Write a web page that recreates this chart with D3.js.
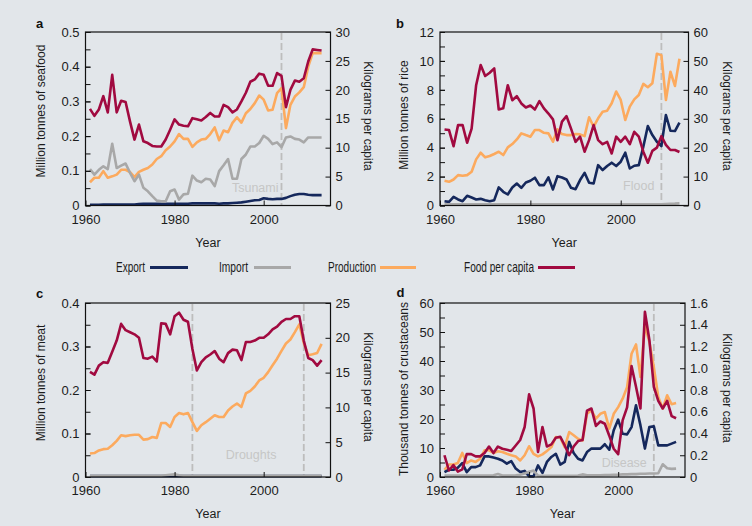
<!DOCTYPE html>
<html><head><meta charset="utf-8">
<script src="https://cdn.jsdelivr.net/npm/d3@7"></script>
<style>
html,body{margin:0;padding:0;background:#e2e6ea;}
svg{display:block;font-family:"Liberation Sans",Arial,Helvetica,sans-serif;}
</style></head><body>
<svg id="chart" width="752" height="526"></svg>
<script>
// ---------------- DATA ----------------
const years = [1961,1962,1963,1964,1965,1966,1967,1968,1969,1970,
  1971,1972,1973,1974,1975,1976,1977,1978,1979,1980,
  1981,1982,1983,1984,1985,1986,1987,1988,1989,1990,
  1991,1992,1993,1994,1995,1996,1997,1998,1999,2000,
  2001,2002,2003,2004,2005,2006,2007,2008,2009,2010,
  2011,2012,2013];
const seriesNames = ["Export","Import","Production","Food per capita"];

// a: seafood (million tonnes; food in kg per capita)
const seafoodExport = [0.002,0.002,0.002,0.003,0.003,0.003,0.003,0.003,0.003,0.003,
  0.003,0.004,0.005,0.005,0.005,0.005,0.005,0.005,0.005,0.005,
  0.005,0.005,0.005,0.006,0.006,0.006,0.006,0.006,0.006,0.005,
  0.006,0.006,0.007,0.008,0.009,0.011,0.013,0.015,0.016,0.021,
  0.019,0.018,0.019,0.019,0.022,0.027,0.031,0.033,0.033,0.031,
  0.030,0.030,0.030];
const seafoodImport = [0.105,0.089,0.103,0.113,0.105,0.178,0.108,0.115,0.121,0.094,
  0.070,0.089,0.051,0.041,0.027,0.014,0.012,0.012,0.041,0.046,
  0.017,0.032,0.034,0.086,0.072,0.067,0.077,0.075,0.056,0.099,
  0.116,0.134,0.077,0.077,0.134,0.147,0.170,0.170,0.180,0.201,
  0.192,0.177,0.182,0.168,0.196,0.199,0.192,0.190,0.182,0.196,
  0.196,0.196,0.196];
const seafoodProduction = [0.067,0.080,0.080,0.099,0.080,0.084,0.089,0.103,0.103,0.096,
  0.082,0.097,0.103,0.108,0.118,0.134,0.142,0.159,0.170,0.185,
  0.206,0.192,0.192,0.169,0.182,0.190,0.192,0.206,0.225,0.188,
  0.216,0.211,0.238,0.254,0.239,0.266,0.278,0.295,0.317,0.305,
  0.274,0.276,0.324,0.338,0.223,0.290,0.314,0.326,0.341,0.400,
  0.439,0.439,0.439];
const seafoodFood = [16.7,15.5,16.6,18.9,16.1,22.6,16.1,18.1,17.9,14.5,
  11.4,14.0,11.1,10.8,10.3,10.2,10.2,11.4,13.1,14.9,
  14.0,13.8,13.7,15.1,14.9,14.7,15.3,16.0,15.4,15.4,
  17.4,17.0,16.1,16.6,18.0,19.5,21.4,21.8,22.8,22.6,
  20.7,20.7,22.9,22.4,17.0,20.0,21.6,21.4,22.0,24.9,
  27.0,26.9,26.8];

// b: rice
const riceExport = [0.30,0.25,0.60,0.42,0.30,0.67,0.55,0.42,0.46,0.37,
  0.30,0.37,1.25,0.95,0.76,1.25,1.52,1.22,1.59,1.71,
  1.92,1.41,1.41,1.94,1.11,2.03,1.94,1.80,1.22,1.13,
  1.76,2.26,1.57,1.52,2.79,2.45,2.73,2.96,2.73,3.03,
  3.65,2.56,2.75,2.79,4.06,5.50,4.87,4.41,4.11,6.26,
  5.17,5.15,5.73];
const riceImport = [0.08,0.08,0.08,0.08,0.08,0.08,0.08,0.08,0.08,0.08,
  0.08,0.08,0.08,0.08,0.08,0.08,0.08,0.08,0.08,0.08,
  0.08,0.08,0.08,0.08,0.08,0.08,0.08,0.08,0.08,0.08,
  0.08,0.08,0.08,0.08,0.08,0.08,0.08,0.08,0.08,0.08,
  0.08,0.08,0.08,0.08,0.08,0.08,0.08,0.08,0.08,0.10,
  0.12,0.13,0.15];
const riceProduction = [1.71,1.64,1.80,2.10,2.06,2.10,2.33,3.19,3.65,3.33,
  3.42,3.56,3.72,3.49,4.02,4.25,4.57,4.99,4.87,4.76,
  5.22,5.22,5.03,4.99,4.41,5.27,4.94,4.87,4.87,4.94,
  4.92,4.80,6.10,5.45,6.03,6.49,6.56,7.07,7.88,7.30,
  5.91,6.84,7.34,7.64,8.41,8.18,8.45,10.50,10.40,7.30,
  9.25,8.27,10.15];
const riceFood = [26.3,26.1,20.5,27.8,27.8,21.7,26.6,41.6,48.6,44.8,
  45.9,47.4,33.2,33.6,41.6,36.4,37.8,35.3,33.9,34.6,
  33.2,36.1,33.6,31.8,29.8,22.6,29.0,30.9,26.6,22.0,
  23.8,18.6,22.6,27.8,22.6,21.2,22.0,18.0,23.8,22.0,
  23.8,21.2,25.5,23.8,18.6,14.8,18.9,20.0,24.0,21.0,
  19.2,19.2,18.5];

// c: meat
const meatExport = [0.002,0.002,0.002,0.002,0.002,0.002,0.002,0.002,0.002,0.002,
  0.002,0.002,0.002,0.002,0.002,0.002,0.002,0.002,0.002,0.002,
  0.002,0.002,0.002,0.002,0.002,0.002,0.002,0.002,0.002,0.002,
  0.002,0.002,0.002,0.002,0.002,0.002,0.002,0.002,0.002,0.002,
  0.002,0.002,0.002,0.002,0.002,0.002,0.002,0.002,0.002,0.002,
  0.002,0.002,0.002];
const meatImport = [0.003,0.003,0.003,0.003,0.003,0.003,0.003,0.003,0.003,0.003,
  0.003,0.003,0.003,0.003,0.003,0.003,0.003,0.004,0.005,0.006,
  0.004,0.003,0.003,0.003,0.003,0.003,0.003,0.003,0.003,0.003,
  0.003,0.003,0.003,0.003,0.003,0.003,0.003,0.003,0.003,0.003,
  0.003,0.003,0.003,0.003,0.003,0.003,0.003,0.003,0.003,0.003,
  0.003,0.003,0.003];
const meatProduction = [0.054,0.055,0.061,0.064,0.065,0.073,0.083,0.096,0.094,0.096,
  0.097,0.097,0.086,0.087,0.092,0.090,0.124,0.124,0.115,0.138,
  0.147,0.144,0.147,0.126,0.106,0.119,0.126,0.134,0.142,0.138,
  0.138,0.153,0.162,0.169,0.161,0.192,0.198,0.208,0.222,0.228,
  0.241,0.257,0.272,0.290,0.307,0.316,0.333,0.351,0.308,0.280,
  0.282,0.285,0.306];
const meatFood = [15.1,14.7,16.0,16.5,16.4,18.0,19.6,22.0,21.1,20.8,
  20.5,20.0,17.1,17.0,17.3,16.6,22.1,22.0,20.5,23.1,
  23.6,22.6,22.3,18.4,15.3,16.5,17.2,17.6,18.1,17.0,
  16.5,17.8,18.3,18.2,16.8,19.4,19.4,19.6,20.0,20.0,
  20.5,21.2,21.6,22.3,22.7,22.7,23.1,23.1,19.6,17.1,
  16.8,16.0,16.8];

// d: crustaceans (thousand tonnes; food in kg per capita)
const crustExport = [1.7,2.5,2.5,3.2,4.8,1.7,3.4,3.4,4.0,7.1,
  7.1,6.7,6.3,5.7,4.6,5.5,2.9,1.7,2.1,0.2,
  0.2,4.0,1.4,5.2,6.9,8.0,4.3,5.2,12.1,8.3,
  6.3,5.7,8.6,9.8,9.8,9.8,11.3,9.4,16.1,19.8,
  14.9,14.7,17.2,24.7,17.8,9.8,17.2,17.5,10.9,10.9,
  10.9,11.5,12.1];
const crustImport = [0.5,0.5,0.5,0.5,0.5,0.5,0.5,0.5,0.5,0.5,
  0.5,0.6,1.0,0.5,0.5,0.5,0.6,0.8,1.2,1.8,
  2.2,0.5,0.4,0.4,0.4,0.4,0.4,0.4,0.4,0.4,
  0.5,0.9,0.6,0.6,0.6,0.6,0.7,0.7,0.8,0.8,
  0.9,0.9,1.0,1.0,1.1,1.1,1.2,1.2,1.3,4.4,
  3.0,2.8,2.9];
const crustProduction = [2.5,4.3,4.3,4.8,8.3,4.8,5.7,5.2,6.3,9.2,
  9.2,8.3,8.9,8.6,8.0,7.5,7.1,5.7,7.5,10.6,
  8.0,7.1,7.8,9.0,10.3,13.8,13.6,10.3,15.5,14.4,
  13.2,12.6,21.8,23.0,20.1,21.8,22.4,16.7,21.8,24.1,
  27.0,31.0,42.5,45.7,34.5,52.3,46.6,37.9,27.6,23.6,
  28.2,25.1,25.5];
const crustFood = [0.20,0.06,0.11,0.05,0.07,0.21,0.21,0.19,0.19,0.22,
  0.28,0.22,0.28,0.26,0.25,0.24,0.29,0.34,0.46,0.76,
  0.63,0.23,0.46,0.28,0.30,0.36,0.37,0.29,0.20,0.28,
  0.33,0.34,0.61,0.63,0.47,0.51,0.49,0.38,0.26,0.21,
  0.52,0.64,1.02,0.83,0.63,1.52,1.26,0.83,0.70,0.63,
  0.70,0.56,0.54];

// tick values
const xTicks = [1960,1980,2000];
const aLeftTicks = [0,0.1,0.2,0.3,0.4,0.5];
const aRightTicks = [0,5,10,15,20,25,30];
const bLeftTicks = [0,2,4,6,8,10,12];
const bRightTicks = [0,10,20,30,40,50,60];
const cLeftTicks = [0,0.1,0.2,0.3,0.4];
const cRightTicks = [0,5,10,15,20,25];
const dLeftTicks = [0,10,20,30,40,50,60];
const dRightTicks = [0,0.2,0.4,0.6,0.8,1.0,1.2,1.4,1.6];

// events
const aEvents = [{year:2004, label:"Tsunami"}];
const bEvents = [{year:2009, label:"Flood"}];
const cEvents = [{year:1984, label:""},{year:2009, label:""}];
const cEventLabel = "Droughts";
const dEvents = [{year:2008, label:"Disease"}];

// ---------------- STYLE / LAYOUT ----------------
const colors = {Export:"#15285c", Import:"#a8a8a8", Production:"#fcaa5e", "Food per capita":"#a10a40"};
const fmt1 = d => d === 0 ? "0" : d3.format(".1f")(d);
const fmt0 = d3.format("d");

const panels = [
  {letter:"a", l:85.5, r:330.5, t:32, b:205.5, yL:[0,0.5], yR:[0,30],
   lt:aLeftTicks, lminor:0.05, rt:aRightTicks, lf:fmt1, rf:fmt0,
   title:"Million tonnes of seafood", titleX:45, titleY:111, rtitleX:363.5, rtitleY:116,
   letterX:36, letterY:27.5,
   data:{Export:seafoodExport, Import:seafoodImport, Production:seafoodProduction, "Food per capita":seafoodFood},
   events:aEvents, labelDx:-3, labelY:192},
  {letter:"b", l:440, r:688.5, t:32, b:205.5, yL:[0,12], yR:[0,60],
   lt:bLeftTicks, lminor:1, rt:bRightTicks, lf:fmt0, rf:fmt0,
   title:"Million tonnes of rice", titleX:407.5, titleY:115, rtitleX:722.5, rtitleY:116,
   letterX:396, letterY:28,
   data:{Export:riceExport, Import:riceImport, Production:riceProduction, "Food per capita":riceFood},
   events:bEvents, labelDx:-7, labelY:190},
  {letter:"c", l:85.5, r:330.5, t:303, b:477, yL:[0,0.4], yR:[0,25],
   lt:cLeftTicks, lminor:0.05, rt:cRightTicks, lf:fmt1, rf:fmt0,
   title:"Million tonnes of meat", titleX:44.5, titleY:383, rtitleX:363.5, rtitleY:387,
   letterX:36, letterY:297.5,
   data:{Export:meatExport, Import:meatImport, Production:meatProduction, "Food per capita":meatFood},
   events:cEvents, labelDx:0, labelY:459},
  {letter:"d", l:440, r:685, t:303, b:477, yL:[0,60], yR:[0,1.6],
   lt:dLeftTicks, lminor:5, rt:dRightTicks, lf:fmt0, rf:fmt1,
   title:"Thousand tonnes of crustaceans", titleX:407.5, titleY:389, rtitleX:722.5, rtitleY:388,
   letterX:396.5, letterY:296.5,
   data:{Export:crustExport, Import:crustImport, Production:crustProduction, "Food per capita":crustFood},
   events:dEvents, labelDx:-7, labelY:467}
];

const svg = d3.select("#chart");
svg.append("rect").attr("width",752).attr("height",526).attr("fill","#e2e6ea");

function styleAxis(g){
  g.select(".domain").remove();
  g.attr("font-family",null).attr("font-size",null);
  g.selectAll(".tick line").attr("stroke","#111").attr("stroke-width",1);
  g.selectAll(".tick text").attr("fill","#1c1c1c").style("font-size","13px");
}

panels.forEach(p => {
  const g = svg.append("g");
  const x = d3.scaleLinear().domain([1960,2015]).range([p.l,p.r]);
  const yL = d3.scaleLinear().domain(p.yL).range([p.b,p.t]);
  const yR = d3.scaleLinear().domain(p.yR).range([p.b,p.t]);

  // event lines
  p.events.forEach(e => {
    g.append("line").attr("x1",x(e.year)).attr("x2",x(e.year))
      .attr("y1",p.t+1).attr("y2",p.b)
      .attr("stroke","#bdbdbd").attr("stroke-width",1.8).attr("stroke-dasharray","7,3");
    if (e.label) {
      g.append("text").attr("x",x(e.year)+p.labelDx).attr("y",p.labelY)
        .attr("text-anchor","end").attr("fill","#c6c6c6").style("font-size","12.5px").text(e.label);
    }
  });
  if (p.letter === "c") {
    const mid = (x(p.events[0].year) + x(p.events[1].year))/2 + 3;
    g.append("text").attr("x",mid).attr("y",p.labelY).attr("text-anchor","middle")
      .attr("fill","#c6c6c6").style("font-size","12.5px").text(cEventLabel);
  }

  // series
  const order = ["Production","Export","Import","Food per capita"];
  order.forEach(name => {
    const ys = name === "Food per capita" ? yR : yL;
    const line = d3.line().x((d,i)=>x(years[i])).y(d=>ys(d));
    g.append("path").datum(p.data[name]).attr("d",line)
      .attr("fill","none").attr("stroke",colors[name]).attr("stroke-width",2.6)
      .attr("stroke-linejoin","round").attr("stroke-linecap","butt");
  });

  // box
  g.append("rect").attr("x",p.l).attr("y",p.t).attr("width",p.r-p.l).attr("height",p.b-p.t)
    .attr("fill","none").attr("stroke","#111").attr("stroke-width",1.2);

  // axes
  const minorVals = d3.range(p.yL[0], p.yL[1] + 1e-9, p.lminor);
  g.append("g").attr("transform",`translate(${p.l},0)`)
    .call(d3.axisLeft(yL).tickValues(minorVals).tickSize(-5).tickFormat(""))
    .call(styleAxis);
  g.append("g").attr("transform",`translate(${p.l},0)`)
    .call(d3.axisLeft(yL).tickValues(p.lt).tickSize(-5).tickPadding(6).tickFormat(p.lf))
    .call(styleAxis);
  g.append("g").attr("transform",`translate(${p.r},0)`)
    .call(d3.axisRight(yR).tickValues(p.rt).tickSize(-5).tickPadding(5).tickFormat(p.rf))
    .call(styleAxis);
  g.append("g").attr("transform",`translate(0,${p.b})`)
    .call(d3.axisBottom(x).tickValues(xTicks).tickSize(-5).tickPadding(9).tickFormat(fmt0))
    .call(styleAxis);

  // titles
  g.append("text").attr("transform",`translate(${p.titleX},${p.titleY}) rotate(-90)`)
    .attr("text-anchor","middle").attr("fill","#1c1c1c").style("font-size","12px").text(p.title);
  g.append("text").attr("transform",`translate(${p.rtitleX},${p.rtitleY}) rotate(90)`)
    .attr("text-anchor","middle").attr("fill","#1c1c1c").style("font-size","12px").text("Kilograms per capita");
  g.append("text").attr("x",(p.l+p.r)/2).attr("y",p.b+41)
    .attr("text-anchor","middle").attr("fill","#1c1c1c").style("font-size","12.5px").text("Year");
  g.append("text").attr("x",p.letterX).attr("y",p.letterY)
    .attr("fill","#111").style("font-size","13px").style("font-weight","bold").text(p.letter);
});

// legend
const legendX = [{tx:116, tw:29, lx1:150, lx2:188},
                 {tx:219, tw:29, lx1:254, lx2:291},
                 {tx:328, tw:48, lx1:380, lx2:416},
                 {tx:464, tw:70, lx1:538, lx2:575}];
const leg = svg.append("g");
seriesNames.forEach((name,i) => {
  const pos = legendX[i];
  leg.append("text").attr("x",pos.tx).attr("y",271.5)
    .attr("textLength",pos.tw).attr("lengthAdjust","spacingAndGlyphs")
    .attr("fill","#1c1c1c").style("font-size","14px")
    .style("font-family","'Liberation Sans','Arial',sans-serif").text(name);
  leg.append("line").attr("x1",pos.lx1).attr("x2",pos.lx2).attr("y1",267.5).attr("y2",267.5)
    .attr("stroke",colors[name]).attr("stroke-width",3);
});
</script>
</body></html>
